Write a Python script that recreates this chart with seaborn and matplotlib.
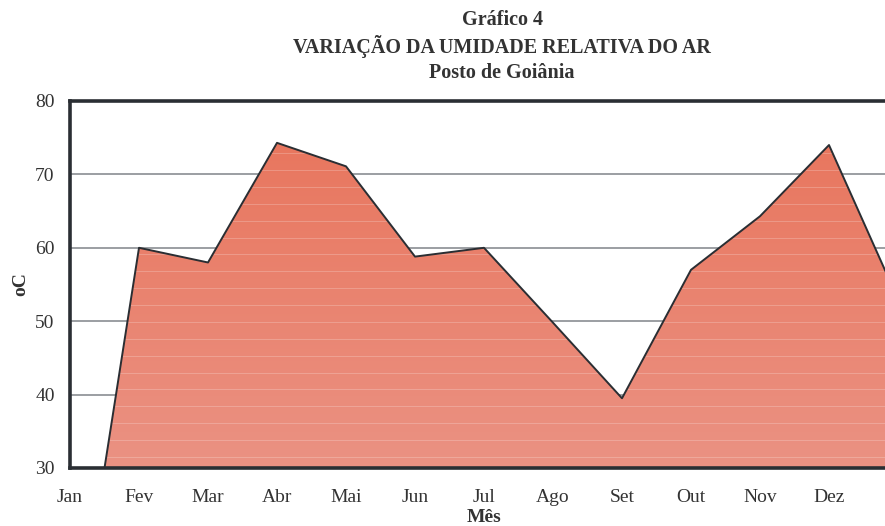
import numpy as np
import pandas as pd
import matplotlib
matplotlib.use("Agg")
import matplotlib.pyplot as plt
import seaborn as sns
from matplotlib.colors import LinearSegmentedColormap

months = ["Jan", "Fev", "Mar", "Abr", "Mai", "Jun", "Jul", "Ago", "Set", "Out", "Nov", "Dez", ""]
umidade = [0, 60, 58, 74.3, 71.1, 58.8, 60, 49.8, 39.5, 57, 64.3, 74, 53]
yticks = [30, 40, 50, 60, 70, 80]

sns.set_style("white")
plt.rcParams['font.family'] = ['Liberation Serif', 'DejaVu Serif']

fig = plt.figure(figsize=(8.85, 5.26), dpi=100)
W, H = 885, 526
left, top, bottom = 70, 101, 468
step = 69
right = left + step * 12
ax = fig.add_axes([left / W, 1 - bottom / H, (right - left) / W, (bottom - top) / H])

df = pd.DataFrame({"x": np.arange(len(months)), "v": umidade})

# gradient fill clipped to the area polygon
poly = ax.fill_between(df["x"], df["v"], 0, color="none", lw=0, zorder=2)
grad = np.linspace(0, 1, 256).reshape(-1, 1)
cmap = LinearSegmentedColormap.from_list("g", ["#E8735A", "#EB9283"])
im = ax.imshow(grad, extent=[0, 12, 30, 80], origin="upper", aspect="auto",
               cmap=cmap, zorder=2)
im.set_clip_path(poly.get_paths()[0], transform=ax.transData)
# faint light bands
for yb in np.arange(31.5, 80, 2.3):
    ln = ax.axhline(yb, color="white", lw=0.6, alpha=0.25, zorder=2.5)
    ln.set_clip_path(poly.get_paths()[0], transform=ax.transData)

sns.lineplot(data=df, x="x", y="v", color="#2a2e33", lw=1.4, ax=ax, zorder=3)

ax.set_xlim(0, 12)
ax.set_ylim(30, 80)
ax.set_yticks(yticks)
ax.set_xticks(range(12))
ax.set_xticklabels(months[:12])
ax.yaxis.grid(True, color="#8a8e92", lw=1.2, zorder=1)
ax.set_axisbelow(True)
for s in ["left", "top", "bottom"]:
    ax.spines[s].set_color("#2a2e33")
    ax.spines[s].set_linewidth(2.6)
ax.spines["right"].set_visible(False)
ax.tick_params(axis="both", direction="out", length=5, width=1, color="#555a5e",
               labelsize=14, labelcolor="#333333", pad=6)
ax.tick_params(axis="x", pad=10)
ax.set_xlabel("Mês", fontsize=14, fontweight="bold", labelpad=2, color="#333333")
ax.set_ylabel("oC", fontsize=14, fontweight="bold", labelpad=4, color="#333333")

cx = 502 / W
kw = dict(ha="center", va="center", fontsize=14.5, fontweight="bold", color="#333333")
fig.text(cx, 1 - 20 / H, "Gráfico 4", **kw)
fig.text(cx, 1 - 46 / H, "VARIAÇÃO DA UMIDADE RELATIVA DO AR", **kw)
fig.text(cx, 1 - 73 / H, "Posto de Goiânia", **kw)

fig.savefig("out.png", dpi=100)
